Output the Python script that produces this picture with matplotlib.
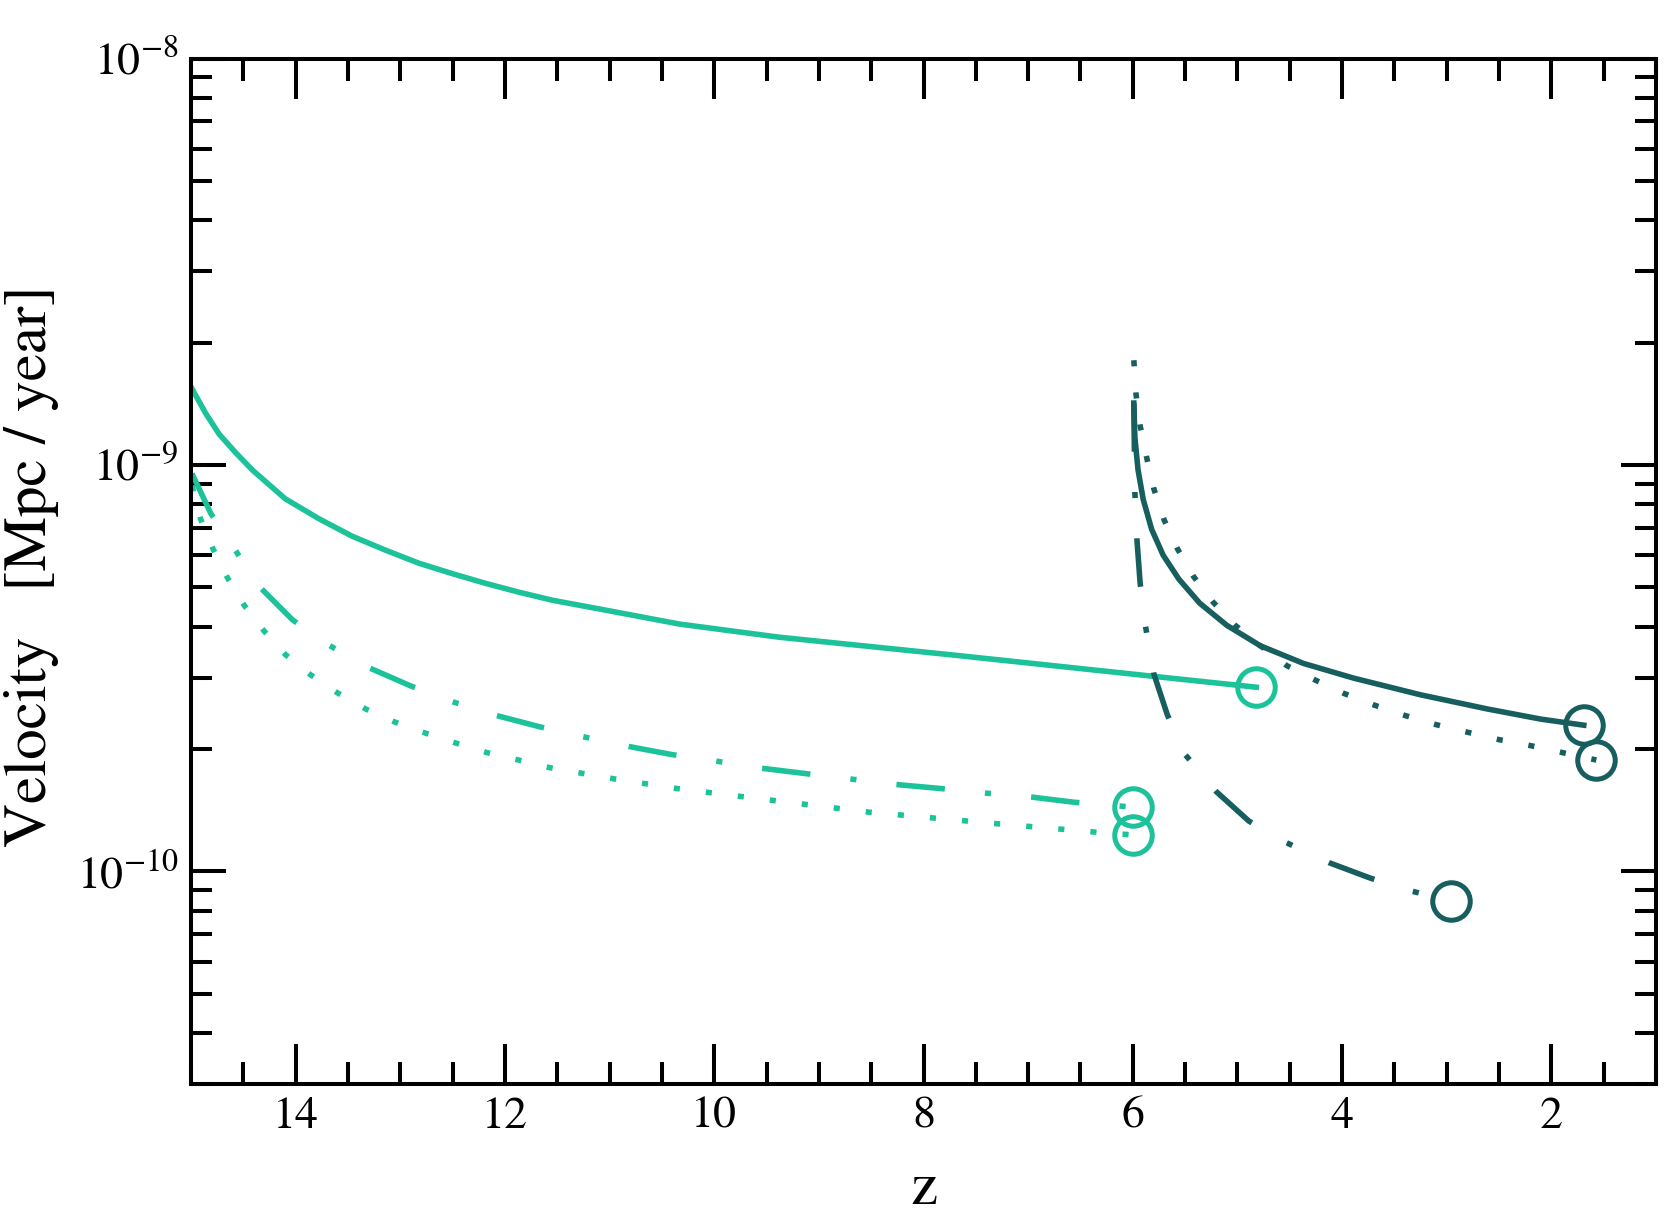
import matplotlib
matplotlib.use("Agg")
import matplotlib.pyplot as plt
from matplotlib.ticker import FixedLocator, NullFormatter, MultipleLocator

plt.rcParams['font.family'] = ['STIXGeneral', 'DejaVu Serif']
plt.rcParams['mathtext.fontset'] = 'stix'

LIGHT = '#1BC29A'
DARK = '#175E5E'

# light solid
z_ls = [14.99, 14.86, 14.73, 14.57, 14.41, 14.10, 13.78, 13.46, 13.14, 12.82, 12.50, 12.18,
        11.86, 11.55, 11.07, 10.33, 9.38, 7.68, 5.80, 4.82]
v_ls = [1.54e-9, 1.34e-9, 1.19e-9, 1.07e-9, 9.70e-10, 8.26e-10, 7.38e-10, 6.68e-10, 6.17e-10,
        5.73e-10, 5.40e-10, 5.11e-10, 4.86e-10, 4.65e-10, 4.41e-10, 4.06e-10, 3.77e-10,
        3.40e-10, 3.02e-10, 2.84e-10]
# light dash-dot
z_ldd = [14.99, 14.81, 14.34, 14.03, 13.68, 13.31, 12.90, 12.51, 12.11, 11.67, 11.27, 10.86,
         10.41, 9.99, 9.59, 9.12, 8.71, 8.30, 7.84, 7.43, 7.02, 6.56, 6.0]
v_ldd = [9.52e-10, 7.59e-10, 5.00e-10, 4.16e-10, 3.60e-10, 3.18e-10, 2.86e-10, 2.62e-10,
         2.43e-10, 2.27e-10, 2.15e-10, 2.04e-10, 1.94e-10, 1.87e-10, 1.80e-10, 1.74e-10,
         1.69e-10, 1.64e-10, 1.60e-10, 1.56e-10, 1.53e-10, 1.48e-10, 1.44e-10]
# light dotted
z_ldot = [14.99, 14.91, 14.79, 14.65, 14.49, 14.30, 14.10, 13.86, 13.60, 13.33, 13.05, 12.76,
          12.47, 12.17, 11.87, 11.57, 10.96, 10.36, 9.75, 8.53, 7.29, 6.36, 6.0]
v_ldot = [8.9e-10, 7.38e-10, 6.22e-10, 5.27e-10, 4.51e-10, 3.90e-10, 3.42e-10, 3.05e-10,
          2.75e-10, 2.51e-10, 2.33e-10, 2.19e-10, 2.07e-10, 1.96e-10, 1.88e-10, 1.80e-10,
          1.69e-10, 1.60e-10, 1.53e-10, 1.40e-10, 1.31e-10, 1.25e-10, 1.23e-10]
# dark solid
z_ds = [5.99, 5.98, 5.95, 5.90, 5.82, 5.71, 5.56, 5.36, 5.10, 4.78, 4.37, 3.89, 3.25, 2.61,
        2.10, 1.69]
v_ds = [1.42e-9, 1.17e-9, 9.73e-10, 8.22e-10, 6.95e-10, 6.00e-10, 5.24e-10, 4.57e-10,
        4.03e-10, 3.59e-10, 3.25e-10, 2.99e-10, 2.72e-10, 2.51e-10, 2.37e-10, 2.29e-10]
# dark dotted
z_ddot = [5.99, 5.97, 5.93, 5.87, 5.80, 5.70, 5.57, 5.42, 5.23, 5.02, 4.78, 4.53, 4.26, 3.98,
          3.70, 3.40, 3.11, 2.80, 2.50, 2.20, 1.57]
v_ddot = [1.81e-9, 1.50e-9, 1.25e-9, 1.05e-9, 8.76e-10, 7.32e-10, 6.20e-10, 5.32e-10,
          4.59e-10, 4.03e-10, 3.59e-10, 3.21e-10, 2.96e-10, 2.74e-10, 2.57e-10, 2.42e-10,
          2.30e-10, 2.20e-10, 2.11e-10, 2.04e-10, 1.88e-10]
# dark dash-dot
z_ddd = [5.99, 5.98, 5.96, 5.93, 5.88, 5.80, 5.67, 5.50, 5.20, 4.89, 4.54, 4.12, 3.73, 3.33,
         2.96]
v_ddd = [1.42e-9, 8.58e-10, 6.53e-10, 5.13e-10, 4.03e-10, 3.07e-10, 2.43e-10, 1.94e-10,
         1.57e-10, 1.33e-10, 1.18e-10, 1.05e-10, 9.63e-11, 8.94e-11, 8.46e-11]

xticks = [14, 12, 10, 8, 6, 4, 2]
yticks = [1e-10, 1e-9, 1e-8]
yminor = [m * 10.0**e for e in (-11, -10, -9) for m in range(2, 10) if 3e-11 <= m * 10.0**e <= 1e-8]

fig = plt.figure(figsize=(16.67, 12.23), dpi=100)
ax = fig.add_axes([191/1667, 1 - 1084/1223, (1656-191)/1667, (1084-58.5)/1223])

lw = 4.0
DASHDOT = (0, (8.75, 7.25, 1.1, 7.25))
DOTTED = (0, (1.1, 4.7))
mk = dict(marker='o', markersize=27, markerfacecolor='none', markeredgewidth=3.6)

def draw(z, v, color, ls):
    ax.plot(z, v, color=color, lw=lw, linestyle=ls, dash_capstyle='butt')
    ax.plot([z[-1]], [v[-1]], color=color, linestyle='none', **mk)

draw(z_ls, v_ls, LIGHT, '-')
draw(z_ldd, v_ldd, LIGHT, DASHDOT)
draw(z_ldot, v_ldot, LIGHT, DOTTED)
draw(z_ds, v_ds, DARK, '-')
draw(z_ddot, v_ddot, DARK, DOTTED)
draw(z_ddd, v_ddd, DARK, DASHDOT)

ax.set_yscale('log')
ax.set_xlim(15, 1)
ax.set_ylim(3e-11, 1e-8)

ax.xaxis.set_major_locator(FixedLocator(xticks))
ax.xaxis.set_minor_locator(MultipleLocator(0.5))
ax.xaxis.set_minor_formatter(NullFormatter())
ax.yaxis.set_major_locator(FixedLocator(yticks))
ax.yaxis.set_minor_locator(FixedLocator(yminor))
ax.yaxis.set_minor_formatter(NullFormatter())

for s in ax.spines.values():
    s.set_linewidth(2.9)

ax.tick_params(which='both', direction='in', top=True, right=True, width=2.9, colors='black')
ax.tick_params(axis='x', which='major', length=29, pad=9, labelsize=33)
ax.tick_params(axis='x', which='minor', length=16)
ax.tick_params(axis='y', which='major', length=25, pad=9, labelsize=33)
ax.tick_params(axis='y', which='minor', length=15)

fig.text(923.5/1667, 1 - 1190/1223, 'z', fontsize=44, ha='center', va='center')
fig.text(32/1667, 1 - 566/1223, 'Velocity   [Mpc / year]', fontsize=44, rotation=90,
         ha='center', va='center')

fig.savefig('out.png', dpi=100)
